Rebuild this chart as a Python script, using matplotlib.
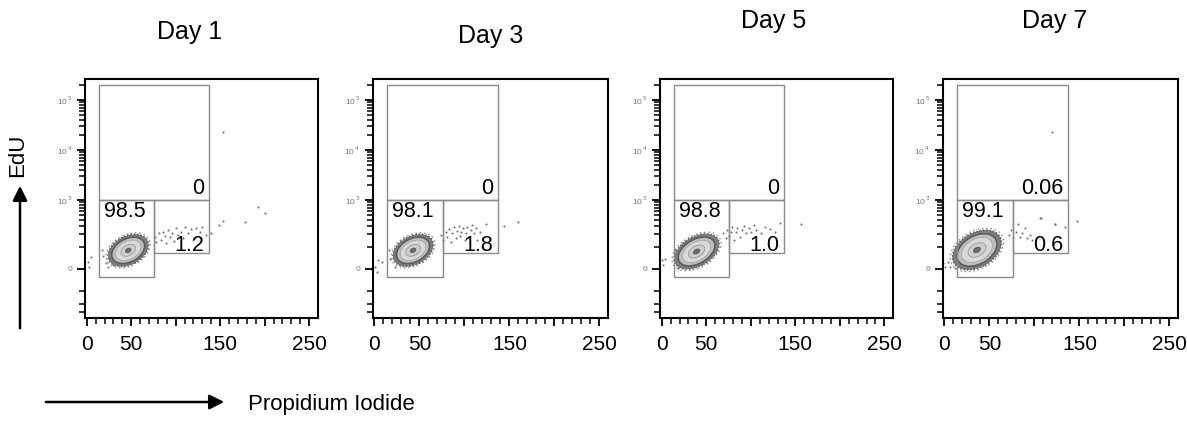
import numpy as np
import matplotlib.pyplot as plt
from matplotlib.patches import Ellipse, Rectangle, FancyArrowPatch
from matplotlib.transforms import ScaledTranslation

plt.rcParams['font.family'] = ['Liberation Sans', 'DejaVu Sans']

# ---- data ----
days = ['Day 1', 'Day 3', 'Day 5', 'Day 7']
q_upper = ['0', '0', '0', '0.06']
q_lower_left = ['98.5', '98.1', '98.8', '99.1']
q_lower_right = ['1.2', '1.8', '1.0', '0.6']

# gate borders (PI in K, EdU)
gate_x = [14, 76, 137]
gate_y = [-30, 65, 1000, 200000]

# main G1 population: centre (PI, EdU), size in px, tilt in degrees
pop_x = [46.6, 42.9, 39.1, 36.1]
pop_y = [80, 80, 74, 82]
pop_w = [44, 44, 50, 54]
pop_h = [29, 29, 30, 35]
pop_ang = [28, 28, 30, 30]

# sparse events outside the main population
ev_x_1 = [76.4, 78.3, 80.9, 83.1, 85.8, 87.6, 89.5, 91.4, 93.2, 95.8, 98.0, 100.7, 102.5,
          105.5, 108.1, 110.0, 113.7, 116.7, 119.3, 123.0, 126.8, 129.4, 134.3, 139.8,
          149.2, 152.9, 178.3, 192.0, 200.6, 152.8,
          1.1, 2.6, 4.8, 16.8, 18.6, 21.2, 24.2, 26.0, 29.8]
ev_y_1 = [175, 134, 207, 150, 224, 181, 122, 245, 170, 207, 141, 264, 190,
          224, 160, 285, 207, 252, 146, 264, 224, 285, 190, 207,
          312, 380, 364, 710, 536, 23000,
          28, 9, 49, 82, 52, 22, 9, 41, 15]

ev_x_2 = [74.2, 76.4, 79.0, 80.9, 83.1, 84.6, 86.5, 88.4, 90.2, 92.1, 94.0, 95.1, 96.6,
          98.8, 100.3, 101.8, 103.3, 105.2, 107.0, 108.9, 110.7, 112.6, 114.5, 117.5,
          123.8, 144.3, 159.2,
          0.7, 2.6, 4.4, 8.2, 15.6, 17.5, 23.1]
ev_y_2 = [190, 146, 224, 170, 252, 134, 207, 276, 160, 236, 295, 181, 224,
          264, 146, 207, 285, 175, 245, 312, 207, 264, 146, 224,
          324, 295, 364,
          9, -10, 36, 28, 82, 41, 9]

ev_x_3 = [69.0, 71.6, 73.8, 75.3, 77.5, 79.0, 81.3, 82.8, 85.0, 87.6, 90.2, 92.5, 95.1,
          97.7, 100.7, 103.7, 106.3, 111.1, 115.6, 121.2, 126.8, 132.4, 156.6,
          0.0, 1.8, 3.7, 14.9, 16.8, 18.6]
ev_y_3 = [207, 160, 245, 181, 224, 285, 146, 215, 264, 175, 245, 295, 207,
          264, 224, 312, 245, 207, 285, 252, 224, 334, 324,
          36, 15, 41, 82, 55, 3]

ev_x_4 = [71.6, 74.2, 76.4, 79.0, 81.6, 83.9, 86.5, 89.1, 92.1, 95.1, 97.7, 106.3,
          123.1, 133.9, 147.3, 120.0, 106.9, 122.6,
          -1.2, 0.7, 4.4, 6.3, 10.0, 11.9]
ev_y_4 = [190, 245, 160, 224, 324, 175, 207, 264, 160, 190, 146, 427,
          324, 285, 380, 23000, 424, 322,
          22, 9, 28, 9, 49, 3]

events_x = [ev_x_1, ev_x_2, ev_x_3, ev_x_4]
events_y = [ev_y_1, ev_y_2, ev_y_3, ev_y_4]

x_ticks = [0, 50, 100, 150, 200, 250]
x_tick_labels = ['0', '50', '', '150', '', '250']
y_ticks = [0, 1e3, 1e4, 1e5]
y_tick_labels = ['0', r'10$^{\,3}$', r'10$^{\,4}$', r'10$^{\,5}$']

# ---- figure ----
W, H = 1187, 423
fig = plt.figure(figsize=(W / 100, H / 100), dpi=100)

lefts = [85, 372.7, 660, 942.7]
widths = [233, 235.6, 233.3, 235.6]
top, bottom = 79, 318
title_pos = [(190, 32), (491, 36), (774, 21), (1055, 21)]


def fwd(v):
    return np.arcsinh(np.asarray(v) / 83.0)


def inv(u):
    return 83.0 * np.sinh(np.asarray(u))


y_minor = [m * 10 ** k for k in (3, 4) for m in range(2, 10)] + \
          [m * 100 for m in range(1, 10)] + [-100, -200, -300, 200000]

for i in range(4):
    ax = fig.add_axes([lefts[i] / W, 1 - bottom / H, widths[i] / W, (bottom - top) / H])
    ax.set_yscale('function', functions=(fwd, inv))
    ax.set_xlim(-2, 260)
    ax.set_ylim(-394, 262144)

    for s in ax.spines.values():
        s.set_linewidth(1.5)
        s.set_color('black')

    ax.set_xticks(x_ticks)
    ax.set_xticklabels(x_tick_labels, fontsize=15)
    ax.set_xticks(np.arange(10, 260, 10), minor=True)
    ax.set_yticks(y_ticks)
    ax.set_yticklabels(y_tick_labels, fontsize=6, color='#777777')
    ax.set_yticks(y_minor, minor=True)
    ax.yaxis.set_minor_formatter(plt.NullFormatter())
    ax.tick_params(axis='both', which='major', direction='out', length=6, width=1.3)
    ax.tick_params(axis='both', which='minor', direction='out', length=4, width=1.1)
    ax.tick_params(axis='x', which='major', pad=6)
    ax.tick_params(axis='y', which='major', pad=3)

    # gates
    gx0, gx1, gx2 = gate_x
    gy0, gy1, gy2, gy3 = gate_y
    gate_kw = dict(fill=False, edgecolor='#8a8a8a', linewidth=1.0, zorder=3)
    ax.add_patch(Rectangle((gx0, gy2), gx2 - gx0, gy3 - gy2, **gate_kw))
    ax.add_patch(Rectangle((gx0, gy0), gx1 - gx0, gy2 - gy0, **gate_kw))
    ax.add_patch(Rectangle((gx1, gy1), gx2 - gx1, gy2 - gy1, **gate_kw))

    # sparse events
    ax.scatter(events_x[i], events_y[i], s=2.2, color='#707070', linewidths=0, zorder=2)

    # main population drawn as a speckled halo plus contour levels (sizes px -> inches)
    tr = fig.dpi_scale_trans + ScaledTranslation(pop_x[i], pop_y[i], ax.transData)
    w, h, a = pop_w[i] / 100, pop_h[i] / 100, pop_ang[i]
    ax.add_patch(Ellipse((0, 0), w * 1.07, h * 1.07, angle=a, transform=tr, fill=False,
                         edgecolor='#8c8c8c', linewidth=1.2, linestyle=(0.7, (0.01, 2.6)),
                         capstyle='round', zorder=2))
    ax.add_patch(Ellipse((0, 0), w * 0.98, h * 0.98, angle=a, transform=tr,
                         facecolor='#7c7c7c', edgecolor='#666666', linewidth=1.4,
                         linestyle=(0, (0.01, 1.7)), capstyle='round', zorder=2))
    ax.add_patch(Ellipse((0, 0), w * 0.8, h * 0.8, angle=a, transform=tr,
                         facecolor='#bfbfbf', edgecolor='#595959', linewidth=1.1, zorder=2))
    ax.add_patch(Ellipse((0, 0), w * 0.62, h * 0.62, angle=a, transform=tr,
                         facecolor='#d9d9d9', edgecolor='#a5a5a5', linewidth=0.6, zorder=2))
    ax.add_patch(Ellipse((0, 0), w * 0.36, h * 0.36, angle=a, transform=tr,
                         facecolor='#cdcdcd', edgecolor='#9a9a9a', linewidth=0.6, zorder=2))
    ax.add_patch(Ellipse((0, 0), w * 0.14, h * 0.14, angle=a, transform=tr,
                         facecolor='#6a6a6a', edgecolor='#555555', linewidth=0.5, zorder=2))

    # quadrant frequencies
    ax.text(132, 1650, q_upper[i], ha='right', va='center', fontsize=15.5, zorder=4)
    ax.text(19, 575, q_lower_left[i], ha='left', va='center', fontsize=15.5, zorder=4)
    ax.text(132, 111, q_lower_right[i], ha='right', va='center', fontsize=15.5, zorder=4)

    tx, ty = title_pos[i]
    fig.text(tx / W, 1 - ty / H, days[i], ha='center', va='center', fontsize=18)

# axis names with arrows
fig.add_artist(FancyArrowPatch((20 / W, 1 - 331 / H), (20 / W, 1 - 183 / H),
                               transform=fig.transFigure, arrowstyle='-|>',
                               mutation_scale=22, linewidth=1.8, color='black'))
fig.text(18 / W, 1 - 155 / H, 'EdU', rotation=90, ha='center', va='center', fontsize=16)

fig.add_artist(FancyArrowPatch((43 / W, 1 - 402 / H), (227 / W, 1 - 402 / H),
                               transform=fig.transFigure, arrowstyle='-|>',
                               mutation_scale=22, linewidth=1.8, color='black'))
fig.text(248 / W, 1 - 404 / H, 'Propidium Iodide', ha='left', va='center', fontsize=16)

fig.savefig('out.png', dpi=100)
